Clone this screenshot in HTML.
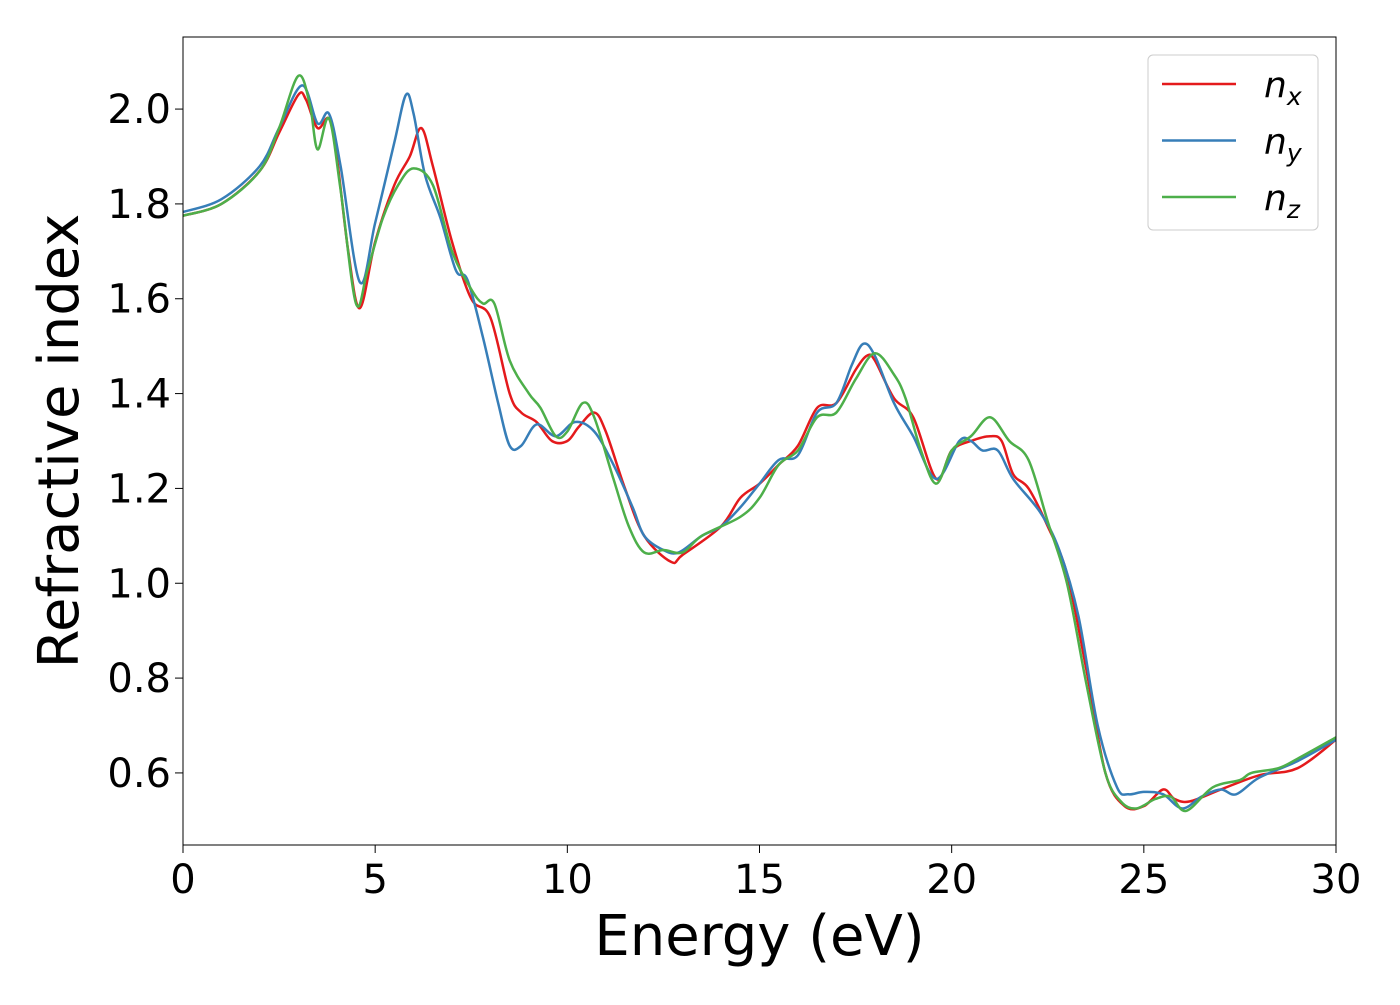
<!DOCTYPE html>
<html><head><meta charset="utf-8"><style>
body{margin:0;background:#fff;}
text{font-family:"DejaVu Sans","Liberation Sans",sans-serif;}
</style></head><body>
<svg id="chart" width="1400" height="1000" xmlns="http://www.w3.org/2000/svg">
<rect width="1400" height="1000" fill="#fff"/>
<g id="plot"></g>
<g id="axes"></g>
</svg>
<script>
const xTicks=[0,5,10,15,20,25,30];
const yTicks=[0.6,0.8,1.0,1.2,1.4,1.6,1.8,2.0];
const yTickLabels=["0.6","0.8","1.0","1.2","1.4","1.6","1.8","2.0"];
const nxE=[0,1,2,2.5,3,3.2,3.5,3.8,4.0,4.3,4.6,5,5.5,5.9,6.2,6.5,7,7.5,8,8.5,8.8,9.2,9.6,10,10.3,10.7,11,11.5,12,12.7,13,14,14.5,15,15.5,16,16.5,17,17.5,17.8,18,18.5,19,19.6,20,20.5,21,21.3,21.6,22,22.5,23,23.5,24,24.5,25,25.5,25.8,26.2,27,28,29,30];
const nxV=[1.775,1.80,1.87,1.95,2.03,2.02,1.96,1.98,1.90,1.70,1.58,1.72,1.84,1.90,1.96,1.88,1.72,1.60,1.56,1.40,1.36,1.34,1.30,1.30,1.33,1.36,1.32,1.20,1.10,1.045,1.06,1.12,1.18,1.21,1.25,1.29,1.37,1.38,1.45,1.48,1.47,1.39,1.35,1.22,1.28,1.30,1.31,1.30,1.23,1.20,1.12,1.02,0.82,0.60,0.53,0.53,0.565,0.545,0.54,0.565,0.595,0.61,0.67];
const nyE=[0,1,2,2.5,3.1,3.5,3.8,4.1,4.6,5,5.5,5.8,6.0,6.3,6.7,7.1,7.4,7.8,8.2,8.5,8.8,9.2,9.7,10.2,10.7,11.2,11.7,12,12.5,12.9,13.5,14,14.5,15,15.5,16,16.5,17,17.4,17.7,18,18.5,19,19.6,20.2,20.5,20.8,21.2,21.6,22.3,22.8,23.3,23.8,24.3,24.6,25,25.5,26,26.5,27,27.4,28,29,30];
const nyV=[1.783,1.81,1.88,1.96,2.05,1.97,1.99,1.88,1.635,1.76,1.93,2.03,1.99,1.86,1.77,1.66,1.64,1.52,1.38,1.29,1.29,1.335,1.31,1.34,1.32,1.25,1.16,1.10,1.07,1.065,1.10,1.12,1.16,1.21,1.26,1.27,1.36,1.38,1.46,1.505,1.48,1.38,1.31,1.22,1.30,1.30,1.28,1.28,1.22,1.15,1.07,0.93,0.70,0.57,0.555,0.56,0.555,0.525,0.55,0.565,0.555,0.59,0.625,0.67];
const nzE=[0,1,2,2.5,3.0,3.3,3.5,3.8,4.1,4.5,4.8,5.2,5.6,6.0,6.5,7,7.5,7.8,8.1,8.5,9,9.3,9.7,10.0,10.4,10.7,11.2,11.6,12.0,12.5,13,13.5,14.5,15,15.5,16,16.5,17,17.5,18,18.5,18.8,19.2,19.6,20,20.5,21,21.5,22,22.5,23,23.5,24,24.4,24.8,25.3,25.7,26.1,26.8,27.5,27.8,28.5,29,30];
const nzV=[1.775,1.80,1.87,1.96,2.07,2.01,1.915,1.98,1.83,1.59,1.66,1.77,1.84,1.875,1.84,1.70,1.62,1.59,1.59,1.47,1.40,1.37,1.31,1.32,1.38,1.35,1.22,1.12,1.065,1.07,1.065,1.10,1.14,1.18,1.25,1.28,1.35,1.36,1.43,1.485,1.44,1.39,1.28,1.21,1.28,1.31,1.35,1.30,1.26,1.13,1.00,0.79,0.60,0.54,0.525,0.545,0.55,0.52,0.57,0.585,0.60,0.61,0.63,0.675];
const NS="http://www.w3.org/2000/svg";
const L=183,R=1336,T=37,B=845,x0=0,x1=30,y0=0.448,y1=2.152;
const sx=v=>L+(v-x0)/(x1-x0)*(R-L);
const sy=v=>B-(v-y0)/(y1-y0)*(B-T);
function mk(tag,attrs,parent){const e=document.createElementNS(NS,tag);for(const k in attrs)e.setAttribute(k,attrs[k]);parent.appendChild(e);return e;}
const plot=document.getElementById('plot'),axes=document.getElementById('axes'),svg=document.getElementById('chart');
const defs=mk('defs',{},svg);const cp=mk('clipPath',{id:'clip'},defs);mk('rect',{x:L,y:T,width:R-L,height:B-T},cp);
plot.setAttribute('clip-path','url(#clip)');
function path(E,V){const p=E.map((e,i)=>[sx(e),sy(V[i])]);let d='M'+p[0][0]+','+p[0][1];
for(let i=0;i<p.length-1;i++){const a=p[Math.max(0,i-1)],b=p[i],c=p[i+1],e=p[Math.min(p.length-1,i+2)];
const c1=[b[0]+(c[0]-a[0])/6,b[1]+(c[1]-a[1])/6],c2=[c[0]-(e[0]-b[0])/6,c[1]-(e[1]-b[1])/6];
d+=` C${c1[0]},${c1[1]} ${c2[0]},${c2[1]} ${c[0]},${c[1]}`;}return d;}
const series=[[nxE,nxV,'#e41a1c','series-nx'],[nyE,nyV,'#377eb8','series-ny'],[nzE,nzV,'#4daf4a','series-nz']];
series.forEach(s=>{const e=mk('path',{d:path(s[0],s[1]),fill:'none',stroke:s[2],'stroke-width':2.5},plot);

});
const fr=mk('rect',{x:L,y:T,width:R-L,height:B-T,fill:'none',stroke:'#000','stroke-width':1},axes);


xTicks.forEach(t=>{mk('line',{x1:sx(t),x2:sx(t),y1:B,y2:B+8,stroke:'#000','stroke-width':1},axes);
const tx=mk('text',{x:sx(t),y:B+48,'font-size':40,'text-anchor':'middle'},axes);tx.textContent=t;

});
yTicks.forEach((t,i)=>{mk('line',{x1:L-8,x2:L,y1:sy(t),y2:sy(t),stroke:'#000','stroke-width':1},axes);
const tx=mk('text',{x:L-12,y:sy(t)+14,'font-size':40,'text-anchor':'end'},axes);tx.textContent=yTickLabels[i];

});
const xl=mk('text',{x:(L+R)/2,y:955,'font-size':56,'text-anchor':'middle'},axes);xl.textContent='Energy (eV)';


const yl=mk('text',{x:0,y:0,'font-size':56,'text-anchor':'middle',transform:`translate(78,${(T+B)/2}) rotate(-90)`},axes);yl.textContent='Refractive index';


const lg=mk('g',{},axes);


mk('rect',{x:1148,y:55,width:170,height:175,rx:5,fill:'#fff',stroke:'#ccc','stroke-width':1},lg);
const subs=['x','y','z'];
series.forEach((s,i)=>{const y=84+i*56.5;mk('line',{x1:1162,x2:1236,y1:y,y2:y,stroke:s[2],'stroke-width':2.5},lg);
const t=mk('text',{x:1264,y:y+13,'font-size':36,'font-style':'italic'},lg);t.textContent='n';
const ts=mk('tspan',{'font-size':25,dy:8},t);ts.textContent=subs[i];

});
</script>
</body></html>
